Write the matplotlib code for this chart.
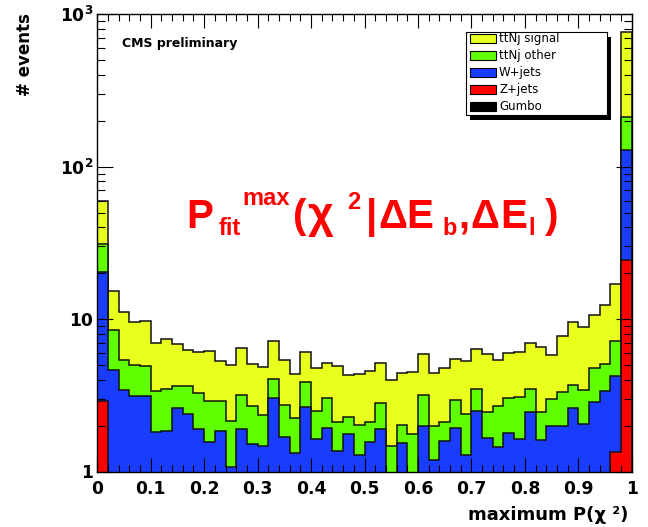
import numpy as np
import matplotlib
matplotlib.use("Agg")
import matplotlib.pyplot as plt
from matplotlib.patches import Rectangle
from matplotlib.ticker import MultipleLocator, FixedLocator, NullFormatter

plt.rcParams['mathtext.fontset'] = 'dejavusans'
plt.rcParams['font.family'] = ['DejaVu Sans']

# ---------------- data (50 bins of maximum P(chi^2), 0..1) ----------------
bin_edges = np.linspace(0.0, 1.0, 51)

gumbo = np.zeros(50)

z_jets = np.array([2.9] + [0.0] * 47 + [1.35, 24.4])

w_jets = np.array([
    17.4, 4.63, 3.43, 3.13, 3.15, 1.81, 1.85, 2.60, 2.38, 1.90,
    1.55, 1.85, 1.07, 1.90, 1.51, 1.46, 3.02, 1.68, 1.32, 2.64,
    1.63, 1.94, 1.36, 1.75, 1.28, 1.55, 1.89, 0.00, 1.53, 0.00,
    1.98, 1.19, 1.58, 1.94, 1.29, 2.50, 1.65, 1.44, 1.80, 1.63,
    2.45, 1.61, 2.00, 2.00, 2.60, 2.04, 2.85, 3.38, 2.90, 104.6])

ttnj_other = np.array([
    10.7, 3.87, 1.96, 1.87, 1.78, 1.57, 1.61, 1.06, 1.28, 1.39,
    1.35, 1.05, 1.06, 1.29, 1.16, 0.89, 1.04, 1.06, 0.91, 1.23,
    0.87, 1.08, 0.76, 0.53, 0.75, 0.55, 0.91, 1.47, 0.50, 1.75,
    1.18, 0.79, 0.54, 0.99, 1.09, 0.96, 0.80, 1.24, 1.23, 1.47,
    1.01, 0.84, 0.99, 1.34, 1.11, 1.39, 1.93, 1.70, 2.90, 82.0])

ttnj_signal = np.array([
    28.6, 6.70, 5.71, 4.60, 4.77, 3.56, 3.94, 3.18, 2.64, 2.79,
    3.25, 2.43, 2.87, 3.31, 2.43, 2.52, 3.16, 2.63, 2.15, 2.19,
    2.28, 2.11, 2.80, 2.02, 2.35, 2.49, 2.35, 2.51, 2.38, 2.78,
    2.71, 2.47, 2.66, 2.52, 2.93, 2.94, 3.42, 2.70, 2.94, 3.01,
    3.48, 4.14, 2.82, 4.44, 5.86, 5.49, 5.82, 7.32, 9.85, 558.0])

series_names = ["ttNj signal", "ttNj other", "W+jets", "Z+jets", "Gumbo"]
series_colors = ["#e9ff1e", "#5fff00", "#1a3cff", "#ff0000", "#000000"]

x_tick_values = [0, 0.1, 0.2, 0.3, 0.4, 0.5, 0.6, 0.7, 0.8, 0.9, 1.0]
x_tick_labels = ["0", "0.1", "0.2", "0.3", "0.4", "0.5", "0.6", "0.7", "0.8", "0.9", "1"]
y_tick_values = [1, 10, 100, 1000]
y_tick_labels = ["1", "10", r"$\mathbf{10^{2}}$", r"$\mathbf{10^{3}}$"]

# ---------------- figure ----------------
W, H = 648, 527
fig = plt.figure(figsize=(W / 100, H / 100), dpi=100)
ax_l, ax_r, ax_t, ax_b = 97.3, 631.7, 14.3, 471.5
ax = fig.add_axes([ax_l / W, 1 - ax_b / H, (ax_r - ax_l) / W, (ax_b - ax_t) / H])
ax.set_yscale('log')
ax.set_xlim(0, 1)
ax.set_ylim(1, 1000)

# stacked histogram (ROOT THStack style: cumulative sums drawn from the bottom)
stack_bottom_first = [gumbo, z_jets, w_jets, ttnj_other, ttnj_signal]
colors_bottom_first = ["#000000", "#ff0000", "#1a3cff", "#5fff00", "#e9ff1e"]
cums = np.cumsum(np.vstack(stack_bottom_first), axis=0)
for cum, col in reversed(list(zip(cums, colors_bottom_first))):
    vals = np.maximum(cum, 0.05)
    ax.stairs(vals, bin_edges, baseline=0.05, fill=True, facecolor=col,
              edgecolor='none', lw=0)
    ax.stairs(vals, bin_edges, baseline=0.05, fill=False, color='#111111', lw=1.1)

# axes style
for s in ax.spines.values():
    s.set_linewidth(1.0)
    s.set_color('black')
    s.set_zorder(5)

ax.set_xticks(x_tick_values)
ax.set_xticklabels(x_tick_labels, fontweight='bold', fontsize=12.3)
ax.xaxis.set_minor_locator(MultipleLocator(0.02))
ax.yaxis.set_major_locator(FixedLocator(y_tick_values))
ax.set_yticklabels(y_tick_labels, fontweight='bold', fontsize=12.3)
ax.yaxis.set_minor_locator(FixedLocator([m * 10 ** e for e in range(0, 3) for m in range(2, 10)]))
ax.yaxis.set_minor_formatter(NullFormatter())

ax.tick_params(axis='x', which='major', direction='in', length=9.9, width=0.8,
               top=True, bottom=True, pad=6)
ax.tick_params(axis='x', which='minor', direction='in', length=4.9, width=0.8,
               top=True, bottom=True)
ax.tick_params(axis='y', which='major', direction='in', length=11.5, width=0.8,
               left=True, right=True, pad=3)
ax.tick_params(axis='y', which='minor', direction='in', length=5.8, width=0.8,
               left=True, right=True)

# axis titles
fig.text(628 / W, 1 - 515 / H, "maximum P(χ ²)", ha='right', va='center',
         fontsize=13, fontweight='bold')
fig.text(25 / W, 1 - 13 / H, "# events", rotation=90, ha='center', va='top',
         fontsize=12, fontweight='bold')

# CMS preliminary
fig.text(122 / W, 1 - 44 / H, "CMS preliminary", ha='left', va='center',
         fontsize=9, fontweight='bold')

# big red formula  P_fit^max(chi^2 |dE_b,dE_l), laid out piece by piece (TLatex style)
big, small = 29, 17
formula_pieces = [  # (text, x_px, baseline_px, size)
    ("P", 186, 228, big),
    ("fit", 219, 235, small),
    ("max", 242, 205, small),
    ("(", 293, 228, big),
    ("χ", 308, 228, 32),
    ("2", 347, 209, small),
    ("|", 366, 228, big),
    ("Δ", 378, 228, big),
    ("E", 406, 228, big),
    ("b", 442, 235, small),
    (",", 458, 228, big),
    ("Δ", 470, 228, big),
    ("E", 500, 228, big),
    ("l", 528, 235, small),
    (")", 545, 228, big),
]
for txt, xp, yp, fs in formula_pieces:
    fig.text(xp / W, 1 - yp / H, txt, ha='left', va='baseline', fontsize=fs,
             fontweight='bold', color='#ff0000', family='Liberation Sans')

# legend (ROOT TLegend with shadow)
lx0, lx1, ly0, ly1 = 466, 606.7, 32, 115
sh = 4.5
fig.add_artist(Rectangle(((lx0 + sh) / W, 1 - (ly1 + sh) / H), (lx1 - lx0) / W,
                         (ly1 - ly0) / H, transform=fig.transFigure,
                         facecolor='black', edgecolor='none', zorder=10))
fig.add_artist(Rectangle((lx0 / W, 1 - ly1 / H), (lx1 - lx0) / W, (ly1 - ly0) / H,
                         transform=fig.transFigure, facecolor='white',
                         edgecolor='black', lw=0.8, zorder=11))
for i, (name, col) in enumerate(zip(series_names, series_colors)):
    yc = 38.5 + 17 * i
    fig.add_artist(Rectangle((470 / W, 1 - (yc + 4.5) / H), 26 / W, 9 / H,
                             transform=fig.transFigure, facecolor=col,
                             edgecolor='black', lw=0.8, zorder=12))
    fig.text(499 / W, 1 - yc / H, name, ha='left', va='center', fontsize=8.5,
             zorder=12)

fig.savefig("out.png", dpi=100)
